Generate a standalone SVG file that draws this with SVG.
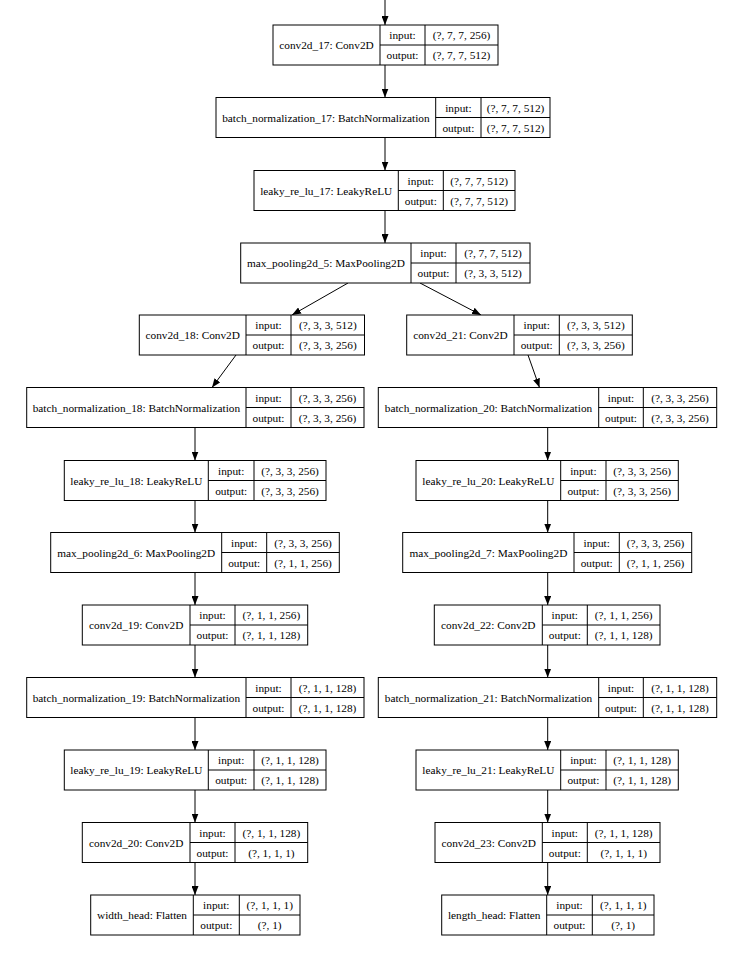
<svg xmlns="http://www.w3.org/2000/svg" width="741" height="954" viewBox="0 0 741 954">
<style>
.b{fill:#fff;stroke:#000;stroke-width:1}
.s{fill:none;stroke:#000;stroke-width:1}
.e{fill:none;stroke:#000;stroke-width:1;marker-end:url(#ah)}
.t text{font-size:11.3px;fill:#000;text-anchor:middle}
</style>
<defs>
<marker id="ah" markerWidth="9" markerHeight="7" refX="9" refY="3.5" orient="auto" markerUnits="userSpaceOnUse"><path d="M0,0L9,3.5L0,7z" fill="#000"/></marker>
</defs>
<rect width="741" height="954" fill="#fff"/>
<g id="connectors">
<line class="e" x1="385" y1="0" x2="385" y2="25"/>
<line class="e" x1="385" y1="65" x2="385" y2="97.5"/>
<line class="e" x1="385" y1="137.5" x2="385" y2="170.5"/>
<line class="e" x1="385" y1="210.5" x2="385" y2="243"/>
<line class="e" x1="348" y1="283" x2="292" y2="315"/>
<line class="e" x1="420" y1="283" x2="481" y2="315"/>
<line class="e" x1="236" y1="355" x2="212" y2="387.5"/>
<line class="e" x1="528" y1="355" x2="539.5" y2="387.5"/>
<line class="e" x1="195" y1="427.5" x2="195" y2="460.5"/>
<line class="e" x1="195" y1="500.5" x2="195" y2="532.5"/>
<line class="e" x1="195" y1="572.5" x2="195" y2="605"/>
<line class="e" x1="195" y1="645" x2="195" y2="677.5"/>
<line class="e" x1="195" y1="717.5" x2="195" y2="750"/>
<line class="e" x1="195" y1="790" x2="195" y2="822.5"/>
<line class="e" x1="195" y1="862.5" x2="195" y2="895"/>
<line class="e" x1="547.7" y1="427.5" x2="547.7" y2="460.5"/>
<line class="e" x1="547.7" y1="500.5" x2="547.7" y2="532.5"/>
<line class="e" x1="547.7" y1="572.5" x2="547.7" y2="605"/>
<line class="e" x1="547.7" y1="645" x2="547.7" y2="677.5"/>
<line class="e" x1="547.7" y1="717.5" x2="547.7" y2="750"/>
<line class="e" x1="547.7" y1="790" x2="547.7" y2="822.5"/>
<line class="e" x1="547.7" y1="862.5" x2="547.7" y2="895"/>
</g>
<g class="t" font-family="'Liberation Serif', 'DejaVu Serif', serif">
<g id="conv2d_17">
<rect class="b" x="273" y="25" width="225" height="40"/>
<path class="s" d="M380,25V65M425,25V65M380,45H498"/>
<text x="326.5" y="49">conv2d_17: Conv2D</text>
<text x="402.5" y="39">input:</text><text x="402.5" y="59">output:</text>
<text x="461.5" y="39">(?, 7, 7, 256)</text><text x="461.5" y="59">(?, 7, 7, 512)</text>
</g>

<g id="batch_normalization_17">
<rect class="b" x="216" y="97.5" width="334" height="40"/>
<path class="s" d="M435.7,97.5V137.5M481,97.5V137.5M435.7,117.5H550"/>
<text x="325.9" y="121.5">batch_normalization_17: BatchNormalization</text>
<text x="458.4" y="111.5">input:</text><text x="458.4" y="131.5">output:</text>
<text x="515.5" y="111.5">(?, 7, 7, 512)</text><text x="515.5" y="131.5">(?, 7, 7, 512)</text>
</g>

<g id="leaky_re_lu_17">
<rect class="b" x="254" y="170.5" width="261" height="40"/>
<path class="s" d="M398.3,170.5V210.5M443.3,170.5V210.5M398.3,190.5H515"/>
<text x="326.2" y="194.5">leaky_re_lu_17: LeakyReLU</text>
<text x="420.8" y="184.5">input:</text><text x="420.8" y="204.5">output:</text>
<text x="479.2" y="184.5">(?, 7, 7, 512)</text><text x="479.2" y="204.5">(?, 7, 7, 512)</text>
</g>

<g id="max_pooling2d_5">
<rect class="b" x="240.7" y="243" width="289.3" height="40"/>
<path class="s" d="M411,243V283M456,243V283M411,263H530"/>
<text x="325.9" y="267">max_pooling2d_5: MaxPooling2D</text>
<text x="433.5" y="257">input:</text><text x="433.5" y="277">output:</text>
<text x="493" y="257">(?, 7, 7, 512)</text><text x="493" y="277">(?, 3, 3, 512)</text>
</g>

<g id="conv2d_18">
<rect class="b" x="139.3" y="315" width="225.2" height="40"/>
<path class="s" d="M246,315V355M291,315V355M246,335H364.5"/>
<text x="192.7" y="339">conv2d_18: Conv2D</text>
<text x="268.5" y="329">input:</text><text x="268.5" y="349">output:</text>
<text x="327.8" y="329">(?, 3, 3, 512)</text><text x="327.8" y="349">(?, 3, 3, 256)</text>
</g>

<g id="batch_normalization_18">
<rect class="b" x="26.7" y="387.5" width="337.3" height="40"/>
<path class="s" d="M246,387.5V427.5M291,387.5V427.5M246,407.5H364"/>
<text x="136.4" y="411.5">batch_normalization_18: BatchNormalization</text>
<text x="268.5" y="401.5">input:</text><text x="268.5" y="421.5">output:</text>
<text x="327.5" y="401.5">(?, 3, 3, 256)</text><text x="327.5" y="421.5">(?, 3, 3, 256)</text>
</g>

<g id="leaky_re_lu_18">
<rect class="b" x="64.3" y="460.5" width="261.7" height="40"/>
<path class="s" d="M208.3,460.5V500.5M254,460.5V500.5M208.3,480.5H326"/>
<text x="136.3" y="484.5">leaky_re_lu_18: LeakyReLU</text>
<text x="231.2" y="474.5">input:</text><text x="231.2" y="494.5">output:</text>
<text x="290" y="474.5">(?, 3, 3, 256)</text><text x="290" y="494.5">(?, 3, 3, 256)</text>
</g>

<g id="max_pooling2d_6">
<rect class="b" x="50.7" y="532.5" width="288.6" height="40"/>
<path class="s" d="M221.7,532.5V572.5M266.7,532.5V572.5M221.7,552.5H339.3"/>
<text x="136.2" y="556.5">max_pooling2d_6: MaxPooling2D</text>
<text x="244.2" y="546.5">input:</text><text x="244.2" y="566.5">output:</text>
<text x="303" y="546.5">(?, 3, 3, 256)</text><text x="303" y="566.5">(?, 1, 1, 256)</text>
</g>

<g id="conv2d_19">
<rect class="b" x="82.3" y="605" width="225.4" height="40"/>
<path class="s" d="M190,605V645M235,605V645M190,625H307.7"/>
<text x="136.2" y="629">conv2d_19: Conv2D</text>
<text x="212.5" y="619">input:</text><text x="212.5" y="639">output:</text>
<text x="271.4" y="619">(?, 1, 1, 256)</text><text x="271.4" y="639">(?, 1, 1, 128)</text>
</g>

<g id="batch_normalization_19">
<rect class="b" x="26.7" y="677.5" width="337.3" height="40"/>
<path class="s" d="M246,677.5V717.5M291,677.5V717.5M246,697.5H364"/>
<text x="136.4" y="701.5">batch_normalization_19: BatchNormalization</text>
<text x="268.5" y="691.5">input:</text><text x="268.5" y="711.5">output:</text>
<text x="327.5" y="691.5">(?, 1, 1, 128)</text><text x="327.5" y="711.5">(?, 1, 1, 128)</text>
</g>

<g id="leaky_re_lu_19">
<rect class="b" x="64.3" y="750" width="261.7" height="40"/>
<path class="s" d="M208.3,750V790M254,750V790M208.3,770H326"/>
<text x="136.3" y="774">leaky_re_lu_19: LeakyReLU</text>
<text x="231.2" y="764">input:</text><text x="231.2" y="784">output:</text>
<text x="290" y="764">(?, 1, 1, 128)</text><text x="290" y="784">(?, 1, 1, 128)</text>
</g>

<g id="conv2d_20">
<rect class="b" x="82.3" y="822.5" width="225.4" height="40"/>
<path class="s" d="M190,822.5V862.5M235,822.5V862.5M190,842.5H307.7"/>
<text x="136.2" y="846.5">conv2d_20: Conv2D</text>
<text x="212.5" y="836.5">input:</text><text x="212.5" y="856.5">output:</text>
<text x="271.4" y="836.5">(?, 1, 1, 128)</text><text x="271.4" y="856.5">(?, 1, 1, 1)</text>
</g>

<g id="width_head">
<rect class="b" x="90.7" y="895" width="209.3" height="40"/>
<path class="s" d="M193.3,895V935M239.3,895V935M193.3,915H300"/>
<text x="142" y="919">width_head: Flatten</text>
<text x="216.3" y="909">input:</text><text x="216.3" y="929">output:</text>
<text x="269.7" y="909">(?, 1, 1, 1)</text><text x="269.7" y="929">(?, 1)</text>
</g>

<g id="conv2d_21">
<rect class="b" x="406.7" y="315" width="225.6" height="40"/>
<path class="s" d="M514,315V355M559.3,315V355M514,335H632.3"/>
<text x="460.4" y="339">conv2d_21: Conv2D</text>
<text x="536.7" y="329">input:</text><text x="536.7" y="349">output:</text>
<text x="595.8" y="329">(?, 3, 3, 512)</text><text x="595.8" y="349">(?, 3, 3, 256)</text>
</g>

<g id="batch_normalization_20">
<rect class="b" x="378.3" y="387.5" width="338.4" height="40"/>
<path class="s" d="M598.7,387.5V427.5M643.3,387.5V427.5M598.7,407.5H716.7"/>
<text x="488.5" y="411.5">batch_normalization_20: BatchNormalization</text>
<text x="621" y="401.5">input:</text><text x="621" y="421.5">output:</text>
<text x="680" y="401.5">(?, 3, 3, 256)</text><text x="680" y="421.5">(?, 3, 3, 256)</text>
</g>

<g id="leaky_re_lu_20">
<rect class="b" x="416" y="460.5" width="262.3" height="40"/>
<path class="s" d="M560.7,460.5V500.5M606,460.5V500.5M560.7,480.5H678.3"/>
<text x="488.4" y="484.5">leaky_re_lu_20: LeakyReLU</text>
<text x="583.4" y="474.5">input:</text><text x="583.4" y="494.5">output:</text>
<text x="642.2" y="474.5">(?, 3, 3, 256)</text><text x="642.2" y="494.5">(?, 3, 3, 256)</text>
</g>

<g id="max_pooling2d_7">
<rect class="b" x="402.7" y="532.5" width="289" height="40"/>
<path class="s" d="M574,532.5V572.5M619.3,532.5V572.5M574,552.5H691.7"/>
<text x="488.4" y="556.5">max_pooling2d_7: MaxPooling2D</text>
<text x="596.7" y="546.5">input:</text><text x="596.7" y="566.5">output:</text>
<text x="655.5" y="546.5">(?, 3, 3, 256)</text><text x="655.5" y="566.5">(?, 1, 1, 256)</text>
</g>

<g id="conv2d_22">
<rect class="b" x="434.3" y="605" width="225.7" height="40"/>
<path class="s" d="M542.3,605V645M587.3,605V645M542.3,625H660"/>
<text x="488.3" y="629">conv2d_22: Conv2D</text>
<text x="564.8" y="619">input:</text><text x="564.8" y="639">output:</text>
<text x="623.7" y="619">(?, 1, 1, 256)</text><text x="623.7" y="639">(?, 1, 1, 128)</text>
</g>

<g id="batch_normalization_21">
<rect class="b" x="378.3" y="677.5" width="338.4" height="40"/>
<path class="s" d="M598.7,677.5V717.5M643.3,677.5V717.5M598.7,697.5H716.7"/>
<text x="488.5" y="701.5">batch_normalization_21: BatchNormalization</text>
<text x="621" y="691.5">input:</text><text x="621" y="711.5">output:</text>
<text x="680" y="691.5">(?, 1, 1, 128)</text><text x="680" y="711.5">(?, 1, 1, 128)</text>
</g>

<g id="leaky_re_lu_21">
<rect class="b" x="416" y="750" width="262.3" height="40"/>
<path class="s" d="M560.7,750V790M606,750V790M560.7,770H678.3"/>
<text x="488.4" y="774">leaky_re_lu_21: LeakyReLU</text>
<text x="583.4" y="764">input:</text><text x="583.4" y="784">output:</text>
<text x="642.2" y="764">(?, 1, 1, 128)</text><text x="642.2" y="784">(?, 1, 1, 128)</text>
</g>

<g id="conv2d_23">
<rect class="b" x="435" y="822.5" width="225" height="40"/>
<path class="s" d="M542.3,822.5V862.5M587.3,822.5V862.5M542.3,842.5H660"/>
<text x="488.7" y="846.5">conv2d_23: Conv2D</text>
<text x="564.8" y="836.5">input:</text><text x="564.8" y="856.5">output:</text>
<text x="623.7" y="836.5">(?, 1, 1, 128)</text><text x="623.7" y="856.5">(?, 1, 1, 1)</text>
</g>

<g id="length_head">
<rect class="b" x="441.7" y="895" width="212.3" height="40"/>
<path class="s" d="M546.7,895V935M592.3,895V935M546.7,915H654"/>
<text x="494.2" y="919">length_head: Flatten</text>
<text x="569.5" y="909">input:</text><text x="569.5" y="929">output:</text>
<text x="623.2" y="909">(?, 1, 1, 1)</text><text x="623.2" y="929">(?, 1)</text>
</g>
</g>
</svg>
